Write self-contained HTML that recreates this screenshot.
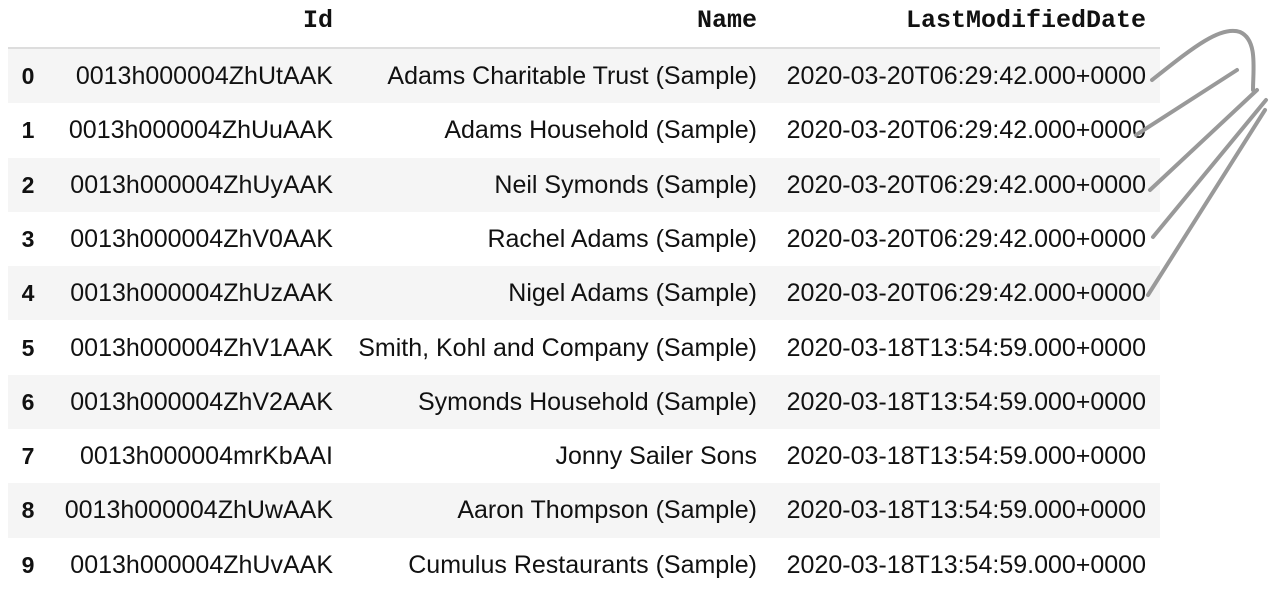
<!DOCTYPE html>
<html><head><meta charset="utf-8">
<style>
html,body{margin:0;padding:0;background:#fff;width:1280px;height:596px;overflow:hidden}
.t{position:absolute;left:8px;top:0;width:1152px}
.h{position:absolute;top:0;height:47px;border-bottom:2px solid #ddd;width:1152px}
.r{position:absolute;left:0;width:1152px;height:54.3px}
.r.s{background:#f5f5f5}
.c{position:absolute;top:0;height:54px;line-height:54px;font-family:"Liberation Sans",Arial,sans-serif;font-size:25px;color:#111;text-align:right;white-space:nowrap}
.hd{position:absolute;top:0;line-height:42px;font-family:"Liberation Mono",monospace;font-weight:bold;font-size:25px;color:#111;text-align:right}
.i{left:0;width:40px;text-align:center;font-weight:bold;font-size:23px}
.c1{right:827px}.c2{right:403px}.c3{right:14px}
</style></head><body>
<div class="t">
<div class="h">
<span class="hd" style="right:827px">Id</span>
<span class="hd" style="right:403px">Name</span>
<span class="hd" style="right:14px">LastModifiedDate</span>
</div>
<div id="rows"></div>
</div>
<svg style="position:absolute;left:0;top:0" width="1280" height="596">
<g fill="none" stroke="#999" stroke-width="4" stroke-linecap="round">
<path d="M1152,80 C1190,50 1220,25 1240,32 C1258,40 1253,70 1253,90"/>
<path d="M1136,135 L1237,70"/>
<path d="M1150,190 L1257,90"/>
<path d="M1153,237 L1266,100"/>
<path d="M1148,295 L1265,110"/>
</g></svg>
<script>
const ids=["0013h000004ZhUtAAK","0013h000004ZhUuAAK","0013h000004ZhUyAAK","0013h000004ZhV0AAK","0013h000004ZhUzAAK","0013h000004ZhV1AAK","0013h000004ZhV2AAK","0013h000004mrKbAAI","0013h000004ZhUwAAK","0013h000004ZhUvAAK"];
const names=["Adams Charitable Trust (Sample)","Adams Household (Sample)","Neil Symonds (Sample)","Rachel Adams (Sample)","Nigel Adams (Sample)","Smith, Kohl and Company (Sample)","Symonds Household (Sample)","Jonny Sailer Sons","Aaron Thompson (Sample)","Cumulus Restaurants (Sample)"];
const dates=["2020-03-20T06:29:42.000+0000","2020-03-20T06:29:42.000+0000","2020-03-20T06:29:42.000+0000","2020-03-20T06:29:42.000+0000","2020-03-20T06:29:42.000+0000","2020-03-18T13:54:59.000+0000","2020-03-18T13:54:59.000+0000","2020-03-18T13:54:59.000+0000","2020-03-18T13:54:59.000+0000","2020-03-18T13:54:59.000+0000"];
const host=document.getElementById('rows');
ids.forEach((id,k)=>{
 const r=document.createElement('div');
 r.className='r'+(k%2===0?' s':'');
 r.style.top=(49+k*54.3)+'px';
 
 
 r.innerHTML='<span class="c i">'+k+'</span><span class="c c1">'+id+'</span><span class="c c2">'+names[k]+'</span><span class="c c3">'+dates[k]+'</span>';
 host.appendChild(r);
});
</script>
</body></html>
